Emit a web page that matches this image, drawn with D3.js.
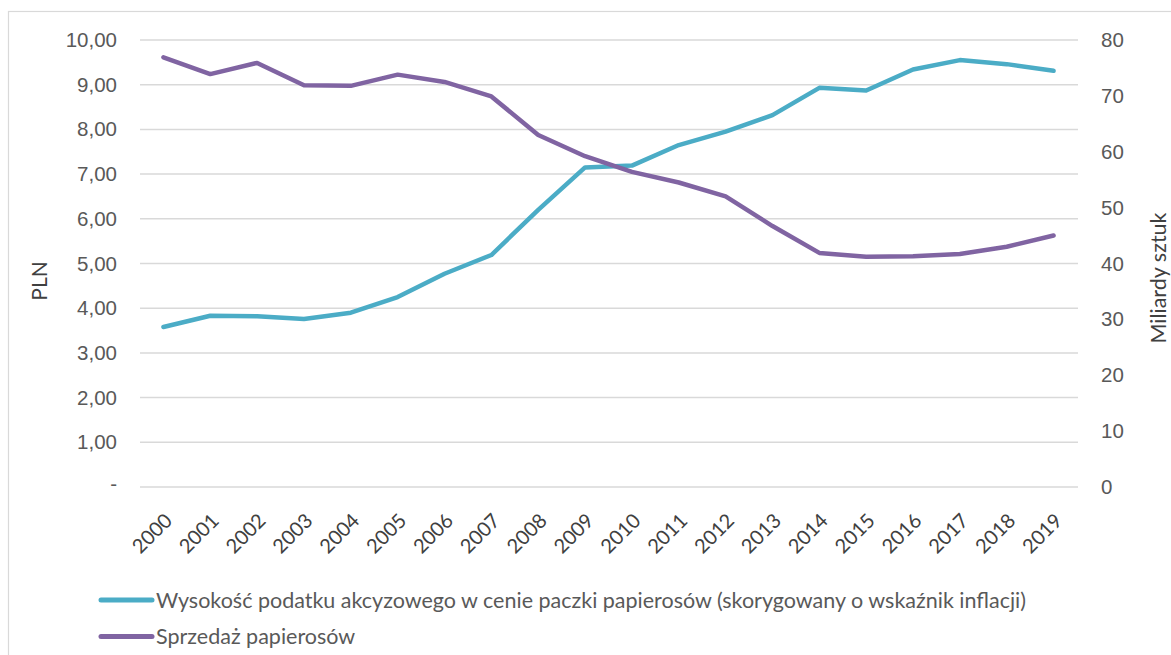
<!DOCTYPE html>
<html>
<head>
<meta charset="utf-8">
<script src="https://cdnjs.cloudflare.com/ajax/libs/d3/7.8.5/d3.min.js"></script>
<style>
  body { margin: 0; background: #fff; }
  svg { display: block; font-family: Lato, "Open Sans", sans-serif; }
</style>
</head>
<body>
<div id="chart"></div>
<script>
const years = ['2000', '2001', '2002', '2003', '2004', '2005', '2006', '2007', '2008', '2009',
  '2010', '2011', '2012', '2013', '2014', '2015', '2016', '2017', '2018', '2019'];
// akcyza w cenie paczki, PLN (lewa oś)
const excise = [3.58, 3.83, 3.82, 3.76, 3.90, 4.25, 4.77, 5.19, 6.20, 7.15,
  7.19, 7.65, 7.95, 8.32, 8.93, 8.87, 9.34, 9.55, 9.46, 9.31];
// sprzedaż, mld sztuk (prawa oś)
const sales = [76.9, 73.9, 75.9, 71.9, 71.8, 73.8, 72.5, 69.9, 63.0, 59.2,
  56.4, 54.5, 52.0, 46.7, 41.9, 41.2, 41.3, 41.7, 43.0, 45.0];
const leftTicks = [0, 1, 2, 3, 4, 5, 6, 7, 8, 9, 10];
const rightTicks = [0, 10, 20, 30, 40, 50, 60, 70, 80];
const legendLabels = [
  'Wysokość podatku akcyzowego w cenie paczki papierosów (skorygowany o wskaźnik inflacji)',
  'Sprzedaż papierosów'
];

const W = 1171, H = 655;
const teal = '#4bacc6', purple = '#8064a2', textColor = '#595959';

const svg = d3.select('#chart').append('svg')
  .attr('width', W)
  .attr('height', H);

// ramka wykresu
svg.append('rect')
  .attr('x', 8.5).attr('y', 11.5)
  .attr('width', W + 10).attr('height', H + 10)
  .attr('fill', 'none')
  .attr('stroke', '#d9d9d9')
  .attr('stroke-width', 1.2);

const x = d3.scaleBand().domain(years).range([140, 1077]);
const xc = d => x(d) + x.bandwidth() / 2;
const yL = d3.scaleLinear().domain([0, 10]).range([487, 40]);
const yR = d3.scaleLinear().domain([0, 80]).range([487, 40]);

// siatka
svg.append('g')
  .selectAll('line')
  .data(leftTicks)
  .enter()
  .append('line')
  .attr('x1', 140).attr('x2', 1078)
  .attr('y1', d => yL(d)).attr('y2', d => yL(d))
  .attr('stroke', '#d9d9d9')
  .attr('stroke-width', 1.5);

const fmt = d => d === 0 ? '-' : d3.format('.2f')(d).replace('.', ',');

const leftAxis = svg.append('g')
  .attr('transform', 'translate(117,0)')
  .call(d3.axisLeft(yL).tickValues(leftTicks).tickFormat(fmt).tickSize(0).tickPadding(0));
leftAxis.select('.domain').remove();
leftAxis.selectAll('text')
  .attr('fill', textColor)
  .style('font-size', '20.5px')
  .attr('dy', d => d === 0 ? '0.15em' : '0.32em');

const rightAxis = svg.append('g')
  .attr('transform', 'translate(1101,0)')
  .call(d3.axisRight(yR).tickValues(rightTicks).tickSize(0).tickPadding(0));
rightAxis.select('.domain').remove();
rightAxis.selectAll('text')
  .attr('fill', textColor)
  .style('font-size', '20.5px');

// etykiety lat
svg.append('g')
  .selectAll('text')
  .data(years)
  .enter()
  .append('text')
  .attr('transform', d => `translate(${xc(d) + 5},${517}) rotate(-45)`)
  .attr('text-anchor', 'end')
  .attr('dy', '0.35em')
  .attr('fill', '#404040')
  .style('font-size', '20px')
  .text(d => d);

// tytuły osi
svg.append('text')
  .attr('transform', 'translate(47,281) rotate(-90)')
  .attr('text-anchor', 'middle')
  .attr('fill', '#404040')
  .style('font-size', '21px')
  .text('PLN');

svg.append('text')
  .attr('transform', 'translate(1166,278) rotate(-90)')
  .attr('text-anchor', 'middle')
  .attr('fill', '#404040')
  .style('font-size', '21.5px')
  .text('Miliardy sztuk');

// linie
const lineL = d3.line().x((d, i) => xc(years[i])).y(d => yL(d));
const lineR = d3.line().x((d, i) => xc(years[i])).y(d => yR(d));

svg.append('path')
  .datum(excise)
  .attr('d', lineL)
  .attr('fill', 'none')
  .attr('stroke', teal)
  .attr('stroke-width', 4.5)
  .attr('stroke-linejoin', 'round')
  .attr('stroke-linecap', 'round');

svg.append('path')
  .datum(sales)
  .attr('d', lineR)
  .attr('fill', 'none')
  .attr('stroke', purple)
  .attr('stroke-width', 4.5)
  .attr('stroke-linejoin', 'round')
  .attr('stroke-linecap', 'round');

// legenda
const legend = svg.append('g')
  .selectAll('g')
  .data(legendLabels)
  .enter()
  .append('g')
  .attr('transform', (d, i) => `translate(0,${600 + i * 36.5})`);

legend.append('line')
  .attr('x1', 101).attr('x2', 152)
  .attr('stroke', (d, i) => i ? purple : teal)
  .attr('stroke-width', 5)
  .attr('stroke-linecap', 'round');

legend.append('text')
  .attr('x', 156)
  .attr('dy', '0.35em')
  .attr('fill', textColor)
  .style('font-size', '21.5px')
  .text(d => d);
</script>
</body>
</html>
